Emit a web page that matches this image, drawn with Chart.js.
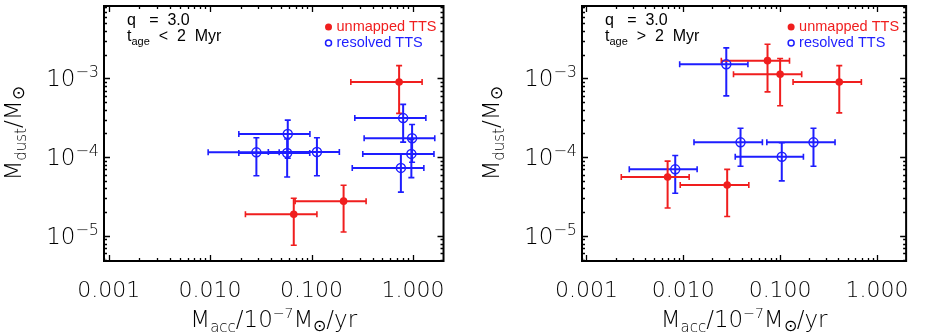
<!DOCTYPE html>
<html>
<head>
<meta charset="utf-8">
<script src="https://cdn.jsdelivr.net/npm/chart.js@4.4.1/dist/chart.umd.min.js"></script>
<style>
  html, body { margin: 0; padding: 0; background: #fff; }
  #wrap { position: relative; width: 926px; height: 335px; }
  .panel { position: absolute; top: 0; width: 463px; height: 335px; }
</style>
</head>
<body>
<div id="wrap">
  <div class="panel" style="left:0"><canvas id="young"></canvas></div>
  <div class="panel" style="left:463px"><canvas id="old"></canvas></div>
</div>
<script>
// axis ranges + tick labels
const xMin = 0.0009, xMax = 2;
const yMin = 4.8e-6, yMax = 8.3e-3;
const xTickValues = [0.001, 0.01, 0.1, 1];
const xTickLabels = ['0.001', '0.010', '0.100', '1.000'];
const yTickValues = [1e-3, 1e-4, 1e-5];
const yTickExps = ['\u22123', '\u22124', '\u22125'];

// left panel: t_age < 2 Myr
const youngRedX   = [0.73, 0.207, 0.0668];
const youngRedY   = [9.0e-4, 2.76e-5, 1.88e-5];
const youngRedXLo = [0.244, 0.0689, 0.0223];
const youngRedXHi = [1.23, 0.345, 0.113];
const youngRedYLo = [3.6e-4, 1.12e-5, 7.6e-6];
const youngRedYHi = [1.45e-3, 4.4e-5, 3.0e-5];

const youngBlueX   = [0.80, 0.98, 0.964, 0.76, 0.0583, 0.0286, 0.0575, 0.113];
const youngBlueY   = [3.13e-4, 1.74e-4, 1.1e-4, 7.3e-5, 1.97e-4, 1.15e-4, 1.13e-4, 1.16e-4];
const youngBlueXLo = [0.267, 0.33, 0.32, 0.252, 0.0192, 0.00957, 0.0192, 0.0375];
const youngBlueXHi = [1.34, 1.64, 1.61, 1.28, 0.0964, 0.048, 0.096, 0.188];
const youngBlueYLo = [1.55e-4, 8.6e-5, 5.5e-5, 3.6e-5, 9.7e-5, 5.8e-5, 5.6e-5, 5.8e-5];
const youngBlueYHi = [4.68e-4, 2.6e-4, 1.68e-4, 1.1e-4, 2.95e-4, 1.76e-4, 1.7e-4, 1.76e-4];

// right panel: t_age > 2 Myr
const oldRedX   = [0.0741, 0.1, 0.408, 0.00689, 0.0284];
const oldRedY   = [1.68e-3, 1.13e-3, 9.0e-4, 5.6e-5, 4.42e-5];
const oldRedXLo = [0.0247, 0.033, 0.136, 0.00229, 0.0093];
const oldRedXHi = [0.125, 0.167, 0.69, 0.0115, 0.0475];
const oldRedYLo = [6.74e-4, 4.5e-4, 3.65e-4, 2.26e-5, 1.76e-5];
const oldRedYHi = [2.71e-3, 1.79e-3, 1.45e-3, 8.9e-5, 7.0e-5];

const oldBlueX   = [0.0278, 0.039, 0.221, 0.104, 0.00826];
const oldBlueY   = [1.51e-3, 1.54e-4, 1.54e-4, 1.01e-4, 7.0e-5];
const oldBlueXLo = [0.00918, 0.0129, 0.0729, 0.0344, 0.00277];
const oldBlueXHi = [0.0465, 0.0656, 0.369, 0.174, 0.0139];
const oldBlueYLo = [6.0e-4, 7.65e-5, 7.65e-5, 5.0e-5, 3.48e-5];
const oldBlueYHi = [2.44e-3, 2.33e-4, 2.33e-4, 1.52e-4, 1.05e-4];

const RED = '#f01e1e';
const BLUE = '#1e1eff';
const FONT = '"DejaVu Sans", sans-serif';
const SMALL_FONT = '"Liberation Sans", Arial, sans-serif';

function points(xs, ys, xlo, xhi, ylo, yhi) {
  return xs.map((x, i) => ({ x, y: ys[i], xLo: xlo[i], xHi: xhi[i], yLo: ylo[i], yHi: yhi[i] }));
}

// draws a string made of pieces with their own size / vertical shift
function drawRich(ctx, parts, x, y, align, family, weight) {
  const w = weight || 'normal';
  let total = 0;
  parts.forEach(p => {
    ctx.font = `${w} ${p.size}px ${family}`;
    p.w = ctx.measureText(p.t).width;
    total += p.w;
  });
  let cx = align === 'center' ? x - total / 2 : align === 'right' ? x - total : x;
  ctx.textAlign = 'left';
  ctx.textBaseline = 'alphabetic';
  parts.forEach(p => {
    ctx.font = `${w} ${p.size}px ${family}`;
    ctx.fillText(p.t, cx, y + (p.dy || 0));
    cx += p.w;
  });
}

const errorBars = {
  id: 'errorBars',
  beforeDatasetsDraw(chart) {
    const { ctx, scales: { x, y } } = chart;
    chart.data.datasets.forEach(ds => {
      ctx.save();
      ctx.strokeStyle = ds.borderColor;
      ds.data.forEach(p => {
        const px = x.getPixelForValue(p.x), py = y.getPixelForValue(p.y);
        const xl = x.getPixelForValue(p.xLo), xh = x.getPixelForValue(p.xHi);
        const yl = y.getPixelForValue(p.yLo), yh = y.getPixelForValue(p.yHi);
        ctx.lineWidth = 2;
        ctx.beginPath();
        ctx.moveTo(xl, py); ctx.lineTo(xh, py);
        ctx.moveTo(px, yl); ctx.lineTo(px, yh);
        ctx.stroke();
        // caps
        ctx.lineWidth = 1.6;
        ctx.beginPath();
        ctx.moveTo(xl, py - 3); ctx.lineTo(xl, py + 3);
        ctx.moveTo(xh, py - 3); ctx.lineTo(xh, py + 3);
        ctx.moveTo(px - 3, yl); ctx.lineTo(px + 3, yl);
        ctx.moveTo(px - 3, yh); ctx.lineTo(px + 3, yh);
        ctx.stroke();
      });
      ctx.restore();
    });
  }
};

// box, inward ticks on all sides, y labels, titles, notes, legend
const decorations = {
  id: 'decorations',
  afterDraw(chart) {
    const { ctx, chartArea: a, scales: { x, y } } = chart;
    const ageSign = chart.options.plugins.decorations.ageSign;
    ctx.save();
    ctx.strokeStyle = '#000';
    ctx.fillStyle = '#000';

    ctx.lineWidth = 1.3;
    ctx.beginPath();
    for (let e = -4; e <= 0; e++) {
      for (let m = 1; m <= 9; m++) {
        const v = m * Math.pow(10, e);
        if (v <= xMin || v >= xMax) continue;
        const px = Math.round(x.getPixelForValue(v)) + 0.5;
        const len = m === 1 ? 6 : 3;
        ctx.moveTo(px, a.bottom); ctx.lineTo(px, a.bottom - len);
        ctx.moveTo(px, a.top); ctx.lineTo(px, a.top + len);
      }
    }
    for (let e = -6; e <= -2; e++) {
      for (let m = 1; m <= 9; m++) {
        const v = m * Math.pow(10, e);
        if (v <= yMin || v >= yMax) continue;
        const py = Math.round(y.getPixelForValue(v)) + 0.5;
        const len = m === 1 ? 6 : 3;
        ctx.moveTo(a.left, py); ctx.lineTo(a.left + len, py);
        ctx.moveTo(a.right, py); ctx.lineTo(a.right - len, py);
      }
    }
    ctx.stroke();

    ctx.lineWidth = 2;
    ctx.strokeRect(a.left, a.top, a.right - a.left, a.bottom - a.top);

    // y tick labels 10^-n
    yTickValues.forEach((v, i) => {
      const py = y.getPixelForValue(v);
      drawRich(ctx, [
        { t: '10', size: 23, dy: 8 },
        { t: yTickExps[i], size: 16, dy: -1 }
      ], a.left - 5, py, 'right', FONT, '200');
    });

    // axis titles
    const cx = (a.left + a.right) / 2;
    drawRich(ctx, [
      { t: 'M', size: 23 },
      { t: 'acc', size: 15, dy: 5 },
      { t: '/10', size: 23 },
      { t: '\u22127', size: 14, dy: -9 },
      { t: 'M', size: 23 },
      { t: '\u2299', size: 16, dy: 4 },
      { t: '/yr', size: 23 }
    ], cx, 327, 'center', FONT, '200');

    ctx.save();
    ctx.translate(a.left - 83, (a.top + a.bottom) / 2);
    ctx.rotate(-Math.PI / 2);
    drawRich(ctx, [
      { t: 'M', size: 23 },
      { t: 'dust', size: 15, dy: 5 },
      { t: '/M', size: 23 },
      { t: '\u2299', size: 17, dy: 3 }
    ], 0, 0, 'center', FONT, '200');
    ctx.restore();

    // notes top-left
    drawRich(ctx, [{ t: 'q   =  3.0', size: 16 }], a.left + 23, a.top + 19, 'left', SMALL_FONT);
    drawRich(ctx, [
      { t: 't', size: 16 },
      { t: 'age', size: 11, dy: 4 },
      { t: '  ' + ageSign + '  2  Myr', size: 16 }
    ], a.left + 23, a.top + 35, 'left', SMALL_FONT);

    // legend top-right
    const lx = a.right - 115;
    ctx.fillStyle = RED;
    ctx.beginPath();
    ctx.arc(lx, a.top + 21, 3.5, 0, Math.PI * 2);
    ctx.fill();
    drawRich(ctx, [{ t: 'unmapped TTS', size: 14.5 }], lx + 8, a.top + 25, 'left', SMALL_FONT);
    ctx.fillStyle = BLUE;
    ctx.strokeStyle = BLUE;
    ctx.lineWidth = 1.5;
    ctx.beginPath();
    ctx.arc(lx, a.top + 37, 3, 0, Math.PI * 2);
    ctx.stroke();
    drawRich(ctx, [{ t: 'resolved TTS', size: 14.5 }], lx + 8, a.top + 41, 'left', SMALL_FONT);

    ctx.restore();
  }
};

function makePanel(id, red, blue, yAxisWidth, padRight, ageSign) {
  new Chart(document.getElementById(id), {
    type: 'scatter',
    data: {
      datasets: [
        {
          label: 'resolved TTS',
          data: blue,
          borderColor: BLUE,
          backgroundColor: 'rgba(0,0,0,0)',
          pointRadius: 4.5,
          pointBorderWidth: 1.5
        },
        {
          label: 'unmapped TTS',
          data: red,
          borderColor: RED,
          backgroundColor: RED,
          pointRadius: 3.8,
          pointBorderWidth: 0
        }
      ]
    },
    options: {
      responsive: true,
      maintainAspectRatio: false,
      animation: false,
      layout: { padding: { top: 2, right: padRight, left: 0, bottom: 0 } },
      plugins: {
        legend: { display: false },
        tooltip: { enabled: false },
        decorations: { ageSign }
      },
      scales: {
        x: {
          type: 'logarithmic',
          min: xMin,
          max: xMax,
          grid: { display: false, drawTicks: false },
          border: { display: false },
          afterBuildTicks: s => { s.ticks = xTickValues.map(v => ({ value: v })); },
          afterFit: s => { s.height = 74; },
          ticks: {
            autoSkip: false,
            maxRotation: 0,
            padding: 17,
            color: '#000',
            font: { family: FONT, size: 22, weight: '200' },
            callback: v => {
              const i = xTickValues.findIndex(t => Math.abs(t - v) / t < 1e-6);
              return i >= 0 ? xTickLabels[i] : '';
            }
          }
        },
        y: {
          type: 'logarithmic',
          min: yMin,
          max: yMax,
          grid: { display: false, drawTicks: false },
          border: { display: false },
          afterBuildTicks: s => { s.ticks = yTickValues.map(v => ({ value: v })); },
          afterFit: s => { s.width = yAxisWidth; },
          ticks: { display: false }
        }
      }
    },
    plugins: [errorBars, decorations]
  });
}

makePanel('young',
  points(youngRedX, youngRedY, youngRedXLo, youngRedXHi, youngRedYLo, youngRedYHi),
  points(youngBlueX, youngBlueY, youngBlueXLo, youngBlueXHi, youngBlueYLo, youngBlueYHi),
  104, 17, '<');
makePanel('old',
  points(oldRedX, oldRedY, oldRedXLo, oldRedXHi, oldRedYLo, oldRedYHi),
  points(oldBlueX, oldBlueY, oldBlueXLo, oldBlueXHi, oldBlueYLo, oldBlueYHi),
  119, 2, '>');
</script>
</body>
</html>
